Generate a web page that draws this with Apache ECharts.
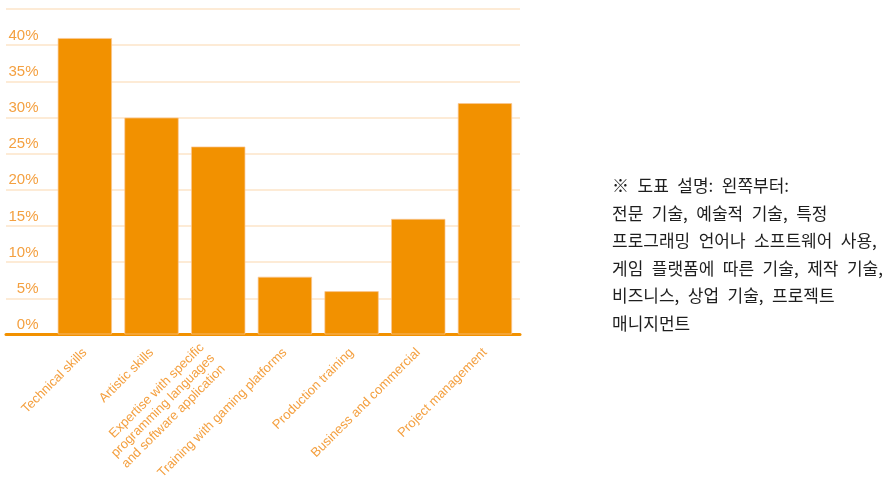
<!DOCTYPE html>
<html>
<head>
<meta charset="utf-8">
<script src="https://cdn.jsdelivr.net/npm/echarts@6/dist/echarts.min.js"></script>
<style>
  html, body { margin: 0; padding: 0; background: #fff; }
  #chart { width: 894px; height: 478px; }
</style>
</head>
<body>
<div id="chart"></div>
<script>
// chart data
const categories = [
    'Technical skills',
    'Artistic skills',
    'Expertise with specific\nprogramming languages\nand software application',
    'Training with gaming platforms',
    'Production training',
    'Business and commercial',
    'Project management'
];
const shares = [41, 30, 26, 8, 6, 16, 32]; // percent of respondents

const yMax = 45;
const yStep = 5;

const noteLines = [
    '※ 도표 설명: 왼쪽부터:',
    '전문 기술, 예술적 기술, 특정',
    '프로그래밍 언어나 소프트웨어 사용,',
    '게임 플랫폼에 따른 기술, 제작 기술,',
    '비즈니스, 상업 기술, 프로젝트',
    '매니지먼트'
];

const orange = '#f29100';
const labelOrange = '#f4a040';
const gridColor = '#fde4c8';
const latin = '"Liberation Sans", Arial, sans-serif';

// the three-line label sits a little further out along its slant
const xData = categories.map(name =>
    name.includes('\n') ? { value: name, textStyle: { padding: [0, 8, 0, 0] } } : name
);

const option = {
    animation: false,
    backgroundColor: '#fff',
    // grid 0 holds the bars, grid 1 only draws the wider guide lines and base line
    grid: [
        { left: 51.5, right: 375.7, top: 9, bottom: 143.5, outerBoundsMode: 'none' },
        { left: 6, right: 374, top: 9, bottom: 143.5, outerBoundsMode: 'none' }
    ],
    xAxis: [
        {
            type: 'category',
            gridIndex: 0,
            data: xData,
            axisLine: { show: false },
            axisTick: { show: false },
            axisLabel: {
                interval: 0,
                rotate: 45,
                margin: 16,
                color: labelOrange,
                fontFamily: latin,
                fontSize: 13,
                lineHeight: 15
            }
        },
        {
            type: 'category',
            gridIndex: 1,
            data: [''],
            axisLine: { lineStyle: { color: orange, width: 3 } },
            axisTick: { show: false },
            axisLabel: { show: false }
        }
    ],
    yAxis: [
        {
            type: 'value',
            gridIndex: 0,
            min: 0,
            max: yMax,
            interval: yStep,
            axisLine: { show: false },
            axisTick: { show: false },
            splitLine: { show: false },
            axisLabel: {
                margin: 13,
                color: labelOrange,
                fontFamily: latin,
                fontSize: 15,
                verticalAlign: 'bottom',
                padding: [0, 0, 2, 0],
                formatter: v => (v >= yMax ? '' : v + '%')
            }
        },
        {
            type: 'value',
            gridIndex: 1,
            min: 0,
            max: yMax,
            interval: yStep,
            axisLine: { show: false },
            axisTick: { show: false },
            axisLabel: { show: false },
            splitLine: { lineStyle: { color: gridColor, width: 1.5 } }
        }
    ],
    series: [
        {
            type: 'bar',
            xAxisIndex: 0,
            yAxisIndex: 0,
            data: shares,
            barWidth: 54.5,
            itemStyle: { color: orange, borderColor: 'rgba(250,200,150,0.7)', borderWidth: 1 }
        }
    ],
    graphic: [
        {
            type: 'text',
            left: 612,
            top: 172,
            style: {
                // wider word gaps, as in the original note
                text: noteLines.join('\n').replace(/ /g, '\u2002'),
                fill: '#1e1e1e',
                font: '17px "Noto Sans CJK KR", sans-serif',
                lineHeight: 27.5
            }
        }
    ]
};

const chart = echarts.init(document.getElementById('chart'));
chart.setOption(option);
</script>
</body>
</html>
